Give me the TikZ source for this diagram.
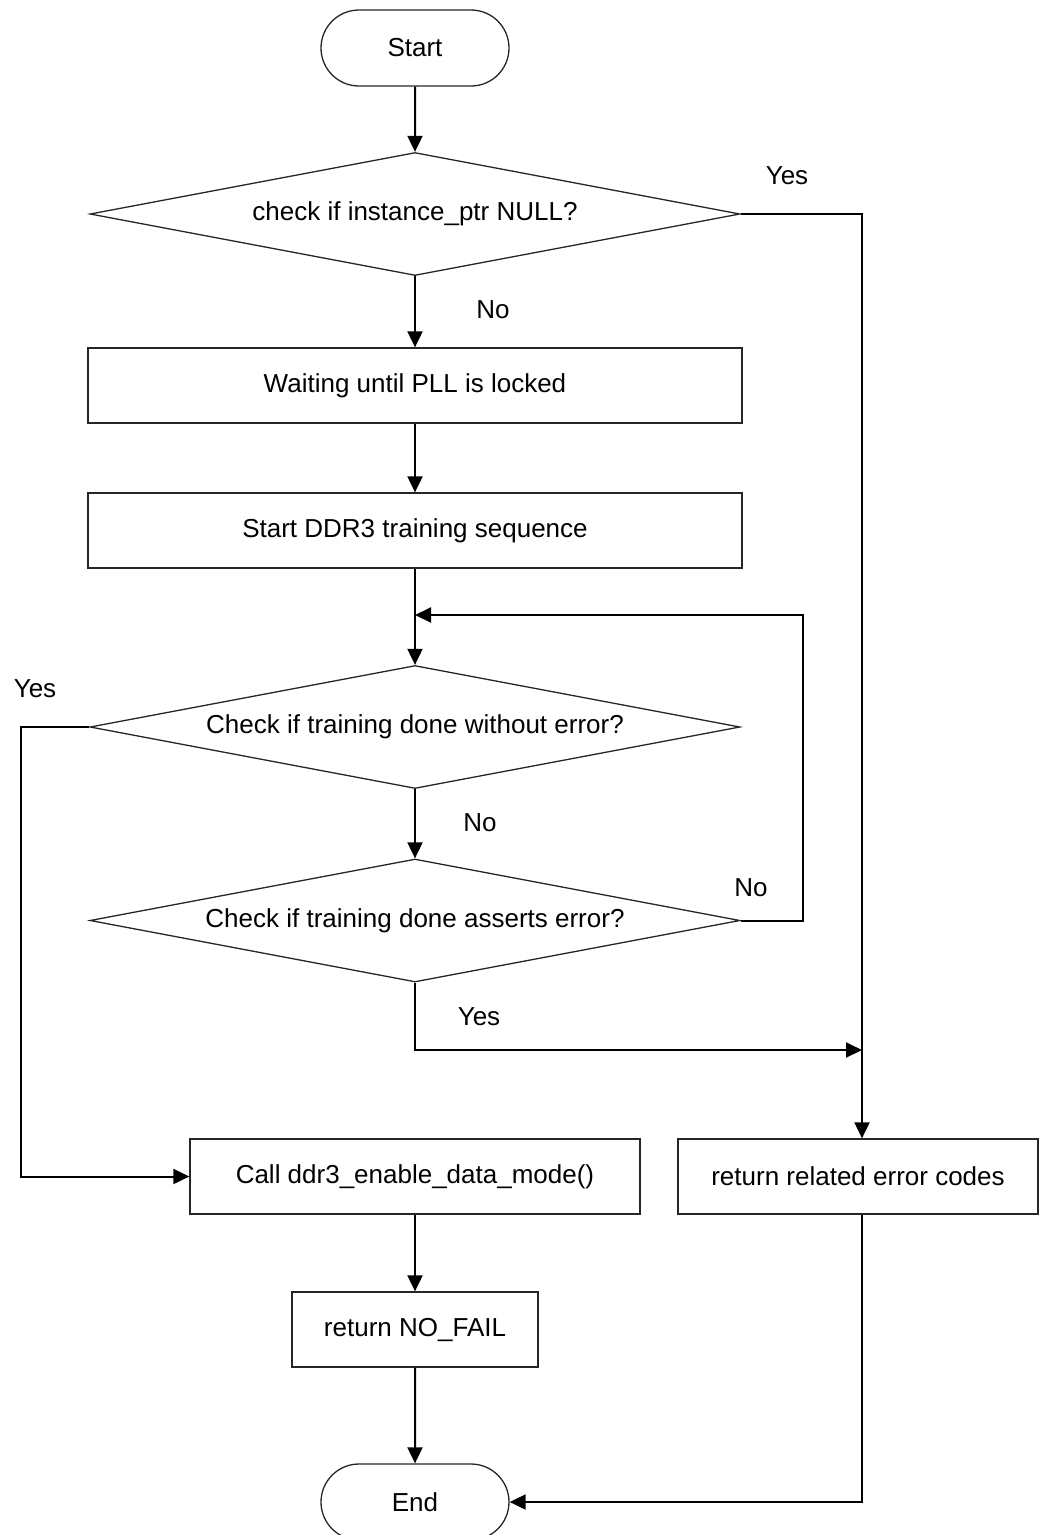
\documentclass[tikz,border=0pt]{standalone}
\usepackage{fontspec}
\setmainfont{Liberation Sans}
\usetikzlibrary{shapes.geometric,shapes.misc,arrows.meta}

\begin{document}
\begin{tikzpicture}[x=1pt,y=-1pt,
  font=\fontsize{26}{30}\selectfont,
  every node/.style={inner sep=0pt},
  shapeline/.style={draw=black!85, line width=1.3pt},
  procbox/.style={shapeline, rectangle, minimum height=75pt},
  terminal/.style={shapeline, rounded rectangle, minimum width=188pt, minimum height=76pt},
  decision/.style={shapeline, diamond, minimum height=123pt, minimum width=650pt},
  flow/.style={line width=2pt, -{Triangle[length=16pt,width=15pt]}},
  tag/.style={}
]
\useasboundingbox (0,0) rectangle (1039,1535);
\clip (0,0) rectangle (1039,1535);

% terminals
\node[terminal] (start) at (415,48) {Start};
\node[terminal] (end) at (415,1502) {End};

% decisions (outline first, text on top)
\node[decision] (d1) at (415,214) {};
\node at (d1) {check if instance\_ptr NULL?};
\node[decision] (d2) at (415,727) {};
\node at (d2) {Check if training done without error?};
\node[decision] (d3) at (415,920.5) {};
\node at (d3) {Check if training done asserts error?};

% process boxes
\node[procbox, minimum width=654pt] (b1) at (415,385.5) {Waiting until PLL is locked};
\node[procbox, minimum width=654pt] (b2) at (415,530.5) {Start DDR3 training sequence};
\node[procbox, minimum width=450pt] (b3) at (415,1176.5) {Call ddr3\_enable\_data\_mode()};
\node[procbox, minimum width=360pt] (b4) at (858,1176.5) {return related error codes};
\node[procbox, minimum width=246pt] (b5) at (415,1329.5) {return NO\_FAIL};

% routing points
\coordinate (rt) at (862,214);
\coordinate (lp) at (803,615);
\coordinate (lx) at (21,727);
\coordinate (ym) at (862,1050);

% main line
\draw[flow] (start) -- (d1.north);
\draw[flow] (d1.south) -- (b1.north);
\draw[flow] (b1) -- (b2);
\draw[flow] (b2.south) -- (d2.north);
\draw[flow] (d2.south) -- (d3.north);
\draw[flow] (b3) -- (b5);
\draw[flow] (b5) -- (end);

% branches
\draw[flow] (d1.east) -- (rt) -- (rt |- b4.north);
\draw[flow] (d3.east) -- (d3.east -| lp) -- (lp) -- (lp -| d2.north);
\draw[flow] (d2.west) -- (lx) -- (lx |- b3.west) -- (b3.west);
\draw[flow] (d3.south) -- (d3.south |- ym) -- (ym);
\draw[flow] (rt |- b4.south) -- (rt |- end.east) -- (end.east);

% branch labels
\node[tag] (y1) at (787,176) {Yes};
\node[tag] (n1) at (493,310) {No};
\node[tag] (y2) at (35,689) {Yes};
\node[tag] (n2) at (480,823) {No};
\node[tag] (n3) at (751,888) {No};
\node[tag] (y3) at (479,1017) {Yes};
\end{tikzpicture}
\end{document}
